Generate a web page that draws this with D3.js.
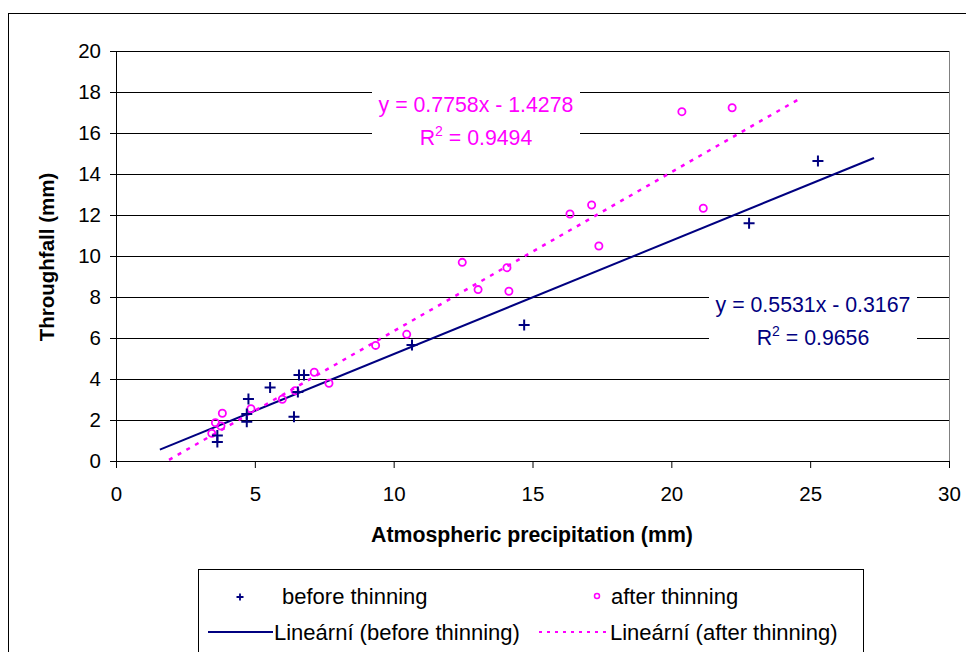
<!DOCTYPE html>
<html>
<head>
<meta charset="utf-8">
<script src="https://cdn.jsdelivr.net/npm/d3@7"></script>
<style>
  body { margin: 0; background: #fff; }
  svg { font-family: "Liberation Sans", Arial, sans-serif; }
</style>
</head>
<body>
<div class="chart"></div>
<script>
var width = 966;
var height = 652;

// before thinning (crosses)
var beforeX = [25.28, 22.8, 14.7, 10.66, 6.59, 6.77, 5.55, 6.55, 4.77, 4.71, 4.71, 6.41, 3.65, 3.65];
var beforeY = [14.63, 11.6, 6.63, 5.66, 4.2, 4.2, 3.58, 3.37, 3.02, 2.29, 1.92, 2.16, 1.25, 0.93];

// after thinning (circles)
var afterX = [20.38, 22.19, 16.35, 17.13, 21.15, 17.39, 12.47, 14.08, 13.04, 14.15, 10.47, 9.35, 7.14, 7.67, 6.45, 5.99, 4.86, 3.83, 3.58, 3.78, 3.45];
var afterY = [17.04, 17.23, 12.05, 12.49, 12.33, 10.49, 9.69, 9.43, 8.36, 8.28, 6.18, 5.64, 4.33, 3.79, 3.43, 3.01, 2.55, 2.33, 1.87, 1.71, 1.35];

// trend lines: slope, intercept, x range drawn
var beforeTrend = {slope: 0.5531, intercept: -0.3167, from: 1.58, to: 27.3};
var afterTrend = {slope: 0.7758, intercept: -1.4278, from: 1.91, to: 24.7};

var beforeEq = ['y = 0.5531x - 0.3167', 'R', '2', ' = 0.9656'];
var afterEq = ['y = 0.7758x - 1.4278', 'R', '2', ' = 0.9494'];

var xTicks = [0, 5, 10, 15, 20, 25, 30];
var yTicks = [0, 2, 4, 6, 8, 10, 12, 14, 16, 18, 20];

var navy = '#000080';
var pink = '#ff00ff';

var svg = d3.select('div.chart').append('svg')
    .attr('width', width)
    .attr('height', height)

// outer chart border
svg.append('rect')
    .attr('x', 8.5).attr('y', 13.5)
    .attr('width', 970).attr('height', 660)
    .attr('fill', 'none').attr('stroke', '#000')

var x_scale = d3.scaleLinear().domain([0, 30]).range([116, 949])
var y_scale = d3.scaleLinear().domain([0, 20]).range([461, 51])

// gridlines
svg.append('g')
    .selectAll('line')
    .data(yTicks.slice(1))
    .enter()
    .append('line')
    .attr('x1', x_scale(0)).attr('x2', x_scale(30))
    .attr('y1', function(d){ return Math.round(y_scale(d)) + 0.5 })
    .attr('y2', function(d){ return Math.round(y_scale(d)) + 0.5 })
    .attr('stroke', '#000')

// right border of plot area
svg.append('line')
    .attr('x1', x_scale(30) + 0.5).attr('x2', x_scale(30) + 0.5)
    .attr('y1', y_scale(20)).attr('y2', y_scale(0))
    .attr('stroke', '#808080')

var y_axis = d3.axisLeft(y_scale).tickValues(yTicks).tickSize(6).tickPadding(9)
var x_axis = d3.axisBottom(x_scale).tickValues(xTicks).tickSize(7).tickPadding(18)

svg.append('g')
    .attr('class', 'y-axis')
    .attr('transform', 'translate(' + x_scale(0) + ',0)')
    .call(y_axis)
svg.append('g')
    .attr('class', 'x-axis')
    .attr('transform', 'translate(0,' + y_scale(0) + ')')
    .call(x_axis)

svg.selectAll('.y-axis text, .x-axis text')
    .style('font-size', '20.5px')
    .style('font-family', '"Liberation Sans", Arial, sans-serif')
    .attr('fill', '#000')
svg.selectAll('.y-axis path, .x-axis path, .y-axis line, .x-axis line')
    .attr('stroke', '#000')

// axis titles
svg.append('text')
    .attr('x', 532).attr('y', 542)
    .attr('text-anchor', 'middle')
    .style('font-size', '21.3px').style('font-weight', 'bold')
    .text('Atmospheric precipitation (mm)')
svg.append('text')
    .attr('transform', 'translate(54,257) rotate(-90)')
    .attr('text-anchor', 'middle')
    .style('font-size', '20.5px').style('font-weight', 'bold')
    .text('Throughfall (mm)')

// trend lines
function trendData(t){
    return [t.from, t.to].map(function(v){ return [v, t.slope * v + t.intercept] })
}
var line = d3.line()
    .x(function(d){ return x_scale(d[0]) })
    .y(function(d){ return y_scale(d[1]) })

svg.append('path')
    .attr('d', line(trendData(beforeTrend)))
    .attr('fill', 'none').attr('stroke', navy).attr('stroke-width', 2)
svg.append('path')
    .attr('d', line(trendData(afterTrend)))
    .attr('fill', 'none').attr('stroke', pink).attr('stroke-width', 2.5)
    .attr('stroke-dasharray', '4,6')

// points
svg.append('g')
    .selectAll('circle')
    .data(d3.zip(afterX, afterY))
    .enter()
    .append('circle')
    .attr('cx', function(d){ return x_scale(d[0]) })
    .attr('cy', function(d){ return y_scale(d[1]) })
    .attr('r', 3.6)
    .attr('fill', 'none')
    .attr('stroke', pink)
    .attr('stroke-width', 1.8)

svg.append('g')
    .selectAll('path')
    .data(d3.zip(beforeX, beforeY))
    .enter()
    .append('path')
    .attr('d', 'M-5.5,0H5.5M0,-5.5V5.5')
    .attr('transform', function(d){ return 'translate(' + x_scale(d[0]) + ',' + y_scale(d[1]) + ')' })
    .attr('stroke', navy)
    .attr('stroke-width', 2)

// equation labels with white box behind
function equation(eq, cx, top, colour){
    var g = svg.append('g')
    g.append('rect')
        .attr('x', cx - 104).attr('y', top)
        .attr('width', 208).attr('height', 62)
        .attr('fill', '#fff')
    g.append('text')
        .attr('x', cx).attr('y', top + 24)
        .attr('text-anchor', 'middle')
        .attr('fill', colour)
        .style('font-size', '21.3px')
        .text(eq[0])
    var t = g.append('text')
        .attr('x', cx).attr('y', top + 57)
        .attr('text-anchor', 'middle')
        .attr('fill', colour)
        .style('font-size', '21.3px')
    t.append('tspan').text(eq[1])
    t.append('tspan').attr('dy', -9).style('font-size', '14px').text(eq[2])
    t.append('tspan').attr('dy', 9).text(eq[3])
}
equation(afterEq, 476, 88, pink)
equation(beforeEq, 813, 288, navy)

// legend
var lg = svg.append('g')
lg.append('rect')
    .attr('x', 198.5).attr('y', 569.5)
    .attr('width', 665).attr('height', 120)
    .attr('fill', '#fff').attr('stroke', '#000')

lg.append('path')
    .attr('d', 'M-3.5,0H3.5M0,-3.5V3.5')
    .attr('transform', 'translate(240,597)')
    .attr('stroke', navy).attr('stroke-width', 1.8)
lg.append('circle')
    .attr('cx', 597).attr('cy', 596).attr('r', 2.5)
    .attr('fill', 'none').attr('stroke', pink).attr('stroke-width', 1.5)
lg.append('line')
    .attr('x1', 208).attr('x2', 273).attr('y1', 632).attr('y2', 632)
    .attr('stroke', navy).attr('stroke-width', 2)
lg.append('line')
    .attr('x1', 539).attr('x2', 608).attr('y1', 632).attr('y2', 632)
    .attr('stroke', pink).attr('stroke-width', 2)
    .attr('stroke-dasharray', '3,5')

var legendText = [
    {x: 282, y: 604, t: 'before thinning'},
    {x: 611, y: 604, t: 'after thinning'},
    {x: 274, y: 640, t: 'Lineární (before thinning)'},
    {x: 610, y: 640, t: 'Lineární (after thinning)'}
]
lg.selectAll('text.leg')
    .data(legendText)
    .enter()
    .append('text')
    .attr('class', 'leg')
    .attr('x', function(d){ return d.x })
    .attr('y', function(d){ return d.y })
    .style('font-size', '22px')
    .text(function(d){ return d.t })
</script>
</body>
</html>
